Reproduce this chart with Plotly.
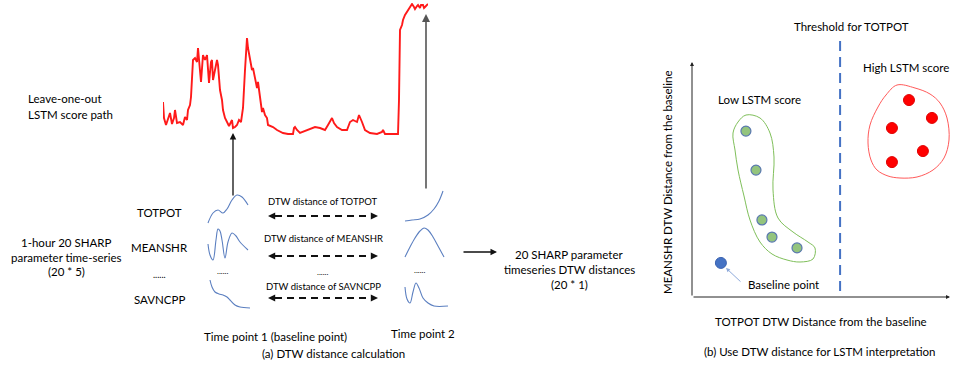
import plotly.graph_objects as go

W, H = 953, 369
FONT = "Lato"

# ---- (a) leave-one-out LSTM score path -------------------------------------
SCORE_TIME = [0, 1, 3, 5, 7, 9, 11, 12, 14, 17, 20, 22, 24, 25, 27, 28, 30, 32,
              34, 35, 37, 38, 40, 42, 44, 45, 46, 48, 49, 50, 52, 54, 55, 57,
              59, 60, 62, 64, 66, 67, 69, 70, 72, 74, 76, 78, 80, 82, 84, 85,
              87, 89, 90, 92, 93, 94, 95, 97, 99, 100, 102, 104, 105, 110, 114,
              120, 125, 130, 131, 132, 134, 137, 142, 147, 152, 157, 162, 165,
              169, 171, 174, 179, 184, 187, 190, 194, 196, 199, 202, 207, 214,
              219, 220, 222, 235, 236, 237, 239, 240, 242, 244, 247, 249, 251,
              252, 254, 255, 257, 258, 260, 261, 262, 264, 265]
LSTM_SCORE = [34, 18, 11, 16, 23, 12, 18, 26, 13, 14, 11, 19, 16, 26, 31, 39,
              76, 78, 74, 88, 61, 54, 81, 76, 81, 61, 53, 74, 76, 56, 66, 76,
              71, 46, 36, 26, 18, 14, 10, 12, 16, 8, 9, 11, 16, 14, 28, 66, 98,
              88, 76, 66, 68, 56, 50, 48, 54, 36, 24, 28, 21, 18, 11, 9, 6, 3,
              2, 2, 8, 9, 6, 3, 5, 7, 9, 8, 6, 11, 18, 13, 9, 6, 6, 14, 16, 14,
              21, 14, 6, 3, 2, 4, 6, 2, 2, 36, 106, 111, 116, 121, 124, 128,
              132, 129, 127, 130, 131, 128, 131, 131, 128, 129, 131, 132]

# ---- (b) DTW distances from the baseline (TOTPOT, MEANSHR) ------------------
LOW_TOTPOT = [20.9, 24.8, 27.1, 31.0, 40.7]
LOW_MEANSHR = [70.6, 54.0, 32.8, 25.5, 20.9]
HIGH_TOTPOT = [84.1, 93.0, 77.5, 89.5, 77.5]
HIGH_MEANSHR = [83.8, 76.2, 71.9, 62.1, 57.4]
BASE_TOTPOT = [11.2]
BASE_MEANSHR = [14.5]
THRESHOLD_TOTPOT = 57.4

SHARP_PARAMS = ["TOTPOT", "MEANSHR", "......", "SAVNCPP"]

fig = go.Figure()

# Overlay axis in pixel units for the schematic parts
def px_domain_x(a, b):
    return [a / W, b / W]

def px_domain_y(top, bottom):
    return [1 - bottom / H, 1 - top / H]

fig.update_layout(
    width=W, height=H, margin=dict(l=0, r=0, t=0, b=0),
    paper_bgcolor="white", plot_bgcolor="rgba(0,0,0,0)", showlegend=False,
    xaxis=dict(range=[0, W], domain=[0, 1], visible=False, fixedrange=True),
    yaxis=dict(range=[H, 0], domain=[0, 1], visible=False, fixedrange=True),
    xaxis2=dict(range=[0, 265], domain=px_domain_x(163, 428), visible=False,
                anchor="y2", fixedrange=True),
    yaxis2=dict(range=[0, 133], domain=px_domain_y(3, 136), visible=False,
                anchor="x2", fixedrange=True),
    xaxis3=dict(range=[0, 100], domain=px_domain_x(692, 950), visible=False,
                anchor="y3", fixedrange=True),
    yaxis3=dict(range=[0, 100], domain=px_domain_y(62, 297), visible=False,
                anchor="x3", fixedrange=True),
)

# Red LSTM score path
fig.add_trace(go.Scatter(x=SCORE_TIME, y=LSTM_SCORE, xaxis="x2", yaxis="y2",
                         mode="lines", line=dict(color="#ff1a1a", width=1.9),
                         hoverinfo="skip"))

# Small sketch waves at time point 1 and time point 2
SKETCH = "#5b7fc0"
waves = [
    ([208, 213, 218, 223, 227, 232, 237, 242, 248],
     [223, 213, 210, 213, 209, 200, 195, 197, 205]),
    ([208, 210, 213, 216, 218, 220, 222, 225, 228, 232, 236, 240, 248],
     [244, 255, 260, 240, 229, 231, 240, 258, 242, 233, 236, 242, 250]),
    ([210, 212, 215, 219, 223, 227, 230, 235, 240, 250],
     [280, 287, 292, 294, 295, 297, 300, 305, 307, 308]),
    ([405, 412, 420, 428, 434, 439, 443],
     [221, 220, 219, 215, 209, 201, 191]),
    ([405, 410, 415, 420, 424, 428, 433, 438, 444],
     [257, 247, 238, 231, 228, 230, 237, 246, 257]),
    ([405, 407, 410, 413, 416, 419, 423, 428, 434, 448],
     [287, 299, 303, 292, 283, 288, 298, 303, 306, 306]),
]
for wx, wy in waves:
    fig.add_trace(go.Scatter(x=wx, y=wy, mode="lines",
                             line=dict(color=SKETCH, width=1.1, shape="spline"),
                             hoverinfo="skip"))

# Cluster outlines in panel (b)
green_blob = ([746, 738, 733, 735, 738, 744, 750, 760, 772, 787, 800, 813, 815,
               808, 793, 778, 773, 774, 770, 760, 746],
              [115, 122, 133, 150, 170, 196, 220, 242, 254, 260, 262, 259, 248,
               242, 232, 218, 190, 157, 133, 118, 115])
red_blob = ([897, 886, 878, 870, 868, 871, 877, 888, 900, 917, 933, 944, 949,
             947, 940, 930, 915, 897],
            [85, 95, 107, 125, 143, 160, 170, 176, 178, 177, 170, 158, 140,
             118, 103, 94, 88, 85])
fig.add_trace(go.Scatter(x=green_blob[0], y=green_blob[1], mode="lines",
                         line=dict(color="#7fbf5a", width=1, shape="spline"),
                         hoverinfo="skip"))
fig.add_trace(go.Scatter(x=red_blob[0], y=red_blob[1], mode="lines",
                         line=dict(color="#ff5a5a", width=1, shape="spline"),
                         hoverinfo="skip"))

# Threshold line for TOTPOT
fig.add_shape(type="line", xref="x3", yref="y", x0=THRESHOLD_TOTPOT,
              x1=THRESHOLD_TOTPOT, y0=41, y1=297,
              line=dict(color="#4472c4", width=2, dash="10px,6px"))

# Points in panel (b)
fig.add_trace(go.Scatter(x=LOW_TOTPOT, y=LOW_MEANSHR, xaxis="x3", yaxis="y3",
                         mode="markers",
                         marker=dict(size=10, color="#93c47d",
                                     line=dict(color="#5a78b0", width=1.2)),
                         hoverinfo="skip"))
fig.add_trace(go.Scatter(x=HIGH_TOTPOT, y=HIGH_MEANSHR, xaxis="x3", yaxis="y3",
                         mode="markers",
                         marker=dict(size=11, color="#ff0000",
                                     line=dict(color="#e00000", width=1)),
                         hoverinfo="skip"))
fig.add_trace(go.Scatter(x=BASE_TOTPOT, y=BASE_MEANSHR, xaxis="x3", yaxis="y3",
                         mode="markers",
                         marker=dict(size=11, color="#4472c4",
                                     line=dict(color="#3a62b0", width=1)),
                         hoverinfo="skip"))

annotations = []

def text(x, y, s, size=11.5, anchor="center", angle=0):
    annotations.append(dict(x=x, y=y, xref="x", yref="y", text=s,
                            showarrow=False, xanchor=anchor, yanchor="middle",
                            textangle=angle,
                            font=dict(family=FONT, size=size, color="#000")))

def arrow(x0, y0, x1, y1, color="#111", width=1.2, head=2, size=1.0):
    annotations.append(dict(x=x1, y=y1, ax=x0, ay=y0, xref="x", yref="y",
                            axref="x", ayref="y", text="", showarrow=True,
                            arrowhead=head, arrowsize=size, arrowwidth=width,
                            arrowcolor=color))

# Panel (a) text
text(26, 98, "Leave-one-out", anchor="left")
text(26, 114, "LSTM score path", anchor="left")
text(66, 242, "1-hour 20 SHARP")
text(66, 257, "parameter time-series")
text(66, 271, "(20 * 5)")
for name, yy in zip(SHARP_PARAMS, [212, 247, 274, 299]):
    text(159, yy, name, size=11.5 if name != "......" else 9)
text(222, 271, "......", size=8)
text(419, 270, "......", size=8)
text(322, 272, "......", size=8)

dtw_rows = [(201, 216, "TOTPOT"), (238, 256, "MEANSHR"), (286, 298, "SAVNCPP")]
for ty, ay, name in dtw_rows:
    text(323, ty, "DTW distance of " + name, size=9.5)
    fig.add_shape(type="line", xref="x", yref="y", x0=275, x1=370, y0=ay,
                  y1=ay, line=dict(color="#111", width=2, dash="7px,5px"))
    arrow(274, ay, 268, ay, width=1.6, size=0.9)
    arrow(371, ay, 378, ay, width=1.6, size=0.9)

text(275, 336, "Time point 1 (baseline point)")
text(423, 333, "Time point 2")
text(333, 353, "(a) DTW distance calculation")

arrow(462, 252, 497, 252, width=1.3)
text(569, 254, "20 SHARP parameter")
text(569, 269, "timeseries DTW distances")
text(569, 284, "(20 * 1)")

# Arrows from sketches up to the score path
arrow(233, 197, 233, 133, color="#111", width=1.3)
arrow(426, 190, 426, 14, color="#555", width=1.6)

# Panel (b)
arrow(692, 297, 692, 62, color="#222", width=1, size=0.8)
arrow(692, 297, 950, 297, color="#222", width=1, size=0.8)
text(851, 26, "Threshold for TOTPOT")
text(951, 67, "High LSTM score", anchor="right")
text(759, 99, "Low LSTM score")
arrow(742, 283, 726, 268, color="#8eaadb", width=1, size=0.8)
text(783, 284, "Baseline point")
text(667, 182, "MEANSHR DTW Distance from the baseline", angle=-90)
text(821, 321, "TOTPOT DTW Distance from the baseline")
text(820, 351, "(b) Use DTW distance for LSTM interpretation", size=11.5)

fig.update_layout(annotations=annotations)
fig.write_html("out.html")
